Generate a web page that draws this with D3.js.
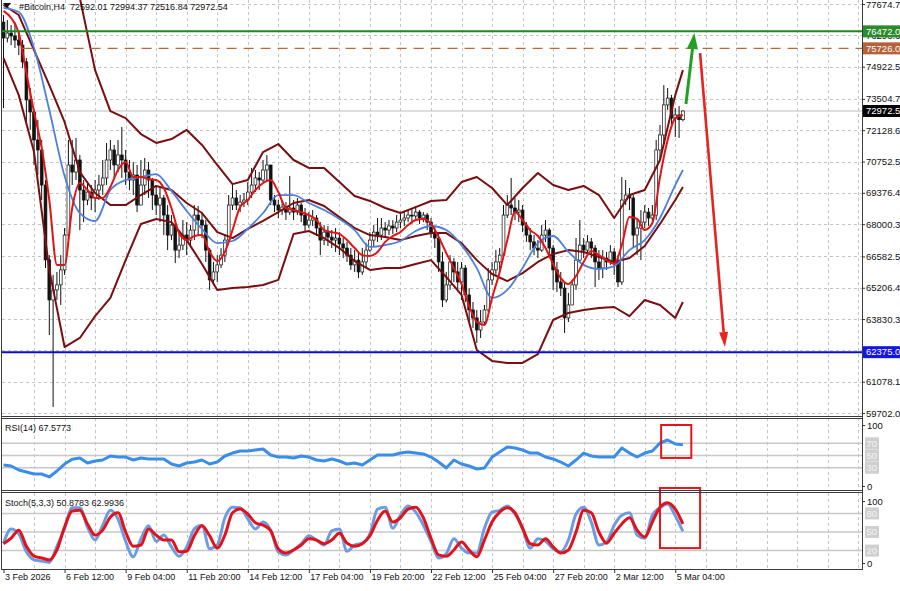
<!DOCTYPE html>
<html><head><meta charset="utf-8">
<script src="https://cdn.jsdelivr.net/npm/d3@7"></script>
<style>
html,body{margin:0;padding:0;background:#fff;}
svg{display:block;font-family:"Liberation Sans",Arial,sans-serif;}
</style></head><body>
<svg id="c" width="900" height="591"></svg>
<script>
// ---------------- DATA ----------------
const symbolTitle = "#Bitcoin,H4";
const lastOHLC = [72592.01, 72994.37, 72516.84, 72972.54];
const firstOpen = 76880;
const closes = [76180,76400,76270,76090,75870,75130,73460,72930,71700,71260,69720,66430,64670,65110,65330,65990,67520,70600,70290,70820,
69500,69060,69410,69150,69500,69720,70030,70820,71260,70600,71040,70820,70290,69940,70160,68840,69720,70380,69940,69280,
68840,69150,68400,67520,67960,66860,67080,67520,67300,67740,68400,68180,67960,66860,65550,65900,66210,66640,67300,68840,
69150,68840,68970,69060,69410,69720,70030,69940,70380,70600,69060,68840,68620,68750,68530,68710,68530,68840,68400,67960,
68180,68270,67830,67300,67650,67430,67300,67390,67130,66950,66640,66210,66420,65900,66340,66860,67300,67650,67520,67830,
67740,67920,67830,68090,68180,68270,68400,68360,68530,68270,68400,68090,67650,67390,66340,64670,65330,66340,65900,65460,
66070,64890,64230,63880,63350,63700,64230,65550,65990,66340,66640,68400,68840,68710,68530,68620,67960,67520,67220,66950,
66860,67520,67740,66950,65990,65460,65190,63880,64450,65330,66420,67080,66860,67220,66950,66340,66070,66510,66340,66780,
66340,65460,69060,69280,69150,67520,67830,68090,68530,68270,68400,71260,71920,73240,73540,72660,72800,72592.01,72972.54];
const highs = [77190,76970,76750,76880,76530,76090,75300,73980,73020,72580,71700,69940,66640,65770,65900,66640,67830,71700,71700,71790,
71040,69940,69810,69720,69940,70160,70820,71570,71700,71480,71700,72270,71260,70820,70730,70600,70820,70910,70730,70030,
69720,69590,69280,68840,68400,68090,67740,68180,68090,67960,68840,68800,68530,68180,66950,66340,66640,66950,67520,69280,
69720,69500,69280,69370,69850,70470,70380,70290,70820,71040,70600,69280,69060,69060,68970,70120,69060,69150,68930,68710,
68530,68620,68400,68090,67960,67920,67740,67830,67650,67390,67220,66950,66860,66780,66950,67170,67650,67960,68270,68270,
68090,68180,68180,68400,68450,68530,68620,68710,68800,68620,68530,68490,68270,67920,67650,66780,65900,66640,66510,66340,
66340,66200,65190,64580,64230,64230,64450,66070,66340,66860,66950,68840,69280,70030,69150,69060,68840,68090,67830,67520,
67300,67960,68180,67830,67080,66340,65900,65460,64980,65550,67390,68180,67390,67520,67390,67080,66860,66860,66780,67080,
66950,66640,70070,69940,69590,69280,68270,68620,68840,68710,68840,71700,72360,74110,73980,73680,73100,73190,72994.37];
const lows = [73100,75990,75870,75740,75430,74860,72360,72140,70600,70160,69060,66070,63130,59970,64670,64450,65770,67300,69720,69940,
67740,68090,68840,68620,68530,69060,69280,69720,70380,70030,70290,70030,69720,69500,69280,68530,68840,69280,69150,68620,
68400,68090,67520,66860,67300,66290,66510,66860,66640,67080,67300,67520,67390,66340,65110,65330,65460,66070,66340,67220,
68620,68620,68530,68750,68840,69150,69410,69500,69850,69940,68840,68530,68270,68400,68180,68400,68180,68400,68090,67650,
67830,67920,67480,66640,67080,67040,66950,66780,66640,66510,66340,65990,65900,65630,65770,66070,66780,67040,67220,67300,
67390,67520,67570,67650,67830,67920,68090,68010,68180,68010,68090,67740,67390,66950,65900,64360,64560,65110,65460,65110,
64670,64580,63700,63440,62780,63000,63570,64140,65330,65770,65900,66510,68270,68400,68180,68090,67650,67220,66860,66640,
66510,66780,67220,66510,65110,65020,64840,63220,63700,64450,65110,66340,66510,66640,66510,65240,65550,65630,65990,66210,
65770,65240,65330,68840,68620,67000,66640,66420,67830,67920,68090,68180,70820,71480,73020,72360,71830,71790,72516.84];

// indicator lines, sampled at these bar numbers
const bandBars = [...d3.range(0, 177, 4), 178];
const bbUpper = [null,null,null,null,79600,77940,74770,72970,72660,71960,71570,71740,72140,71480,70600,69760,69940,71170,71520,70820,
70470,70470,69850,69240,69020,68710,68490,68750,69020,69060,69850,70070,69590,68840,69590,70250,69720,69500,69680,69280,
68270,69280,69500,70820,73670,74770];
const bbMiddle = [77630,77190,75650,74110,72490,70290,69370,68840,68840,69280,69680,69500,68930,68490,67650,67390,67790,68140,68530,68930,
69060,68800,68310,67830,67520,67440,67300,67480,67610,67610,67170,66420,65810,65500,65850,66340,66690,66860,66780,66560,
66340,66510,67040,68010,69060,69630];
const bbLower = [75300,73670,71170,65990,62600,63000,63960,64760,66420,68010,68230,68090,67300,66250,65110,65190,65240,65330,65550,67570,
67700,67390,66950,66380,65990,66070,66070,66250,66420,65680,64890,62470,61990,61900,61900,62290,63790,64100,64230,64320,
64360,63960,64670,64450,63880,64580];
const maSlow = [77500,77320,75740,73020,70120,68490,68140,69500,69940,70070,70200,69460,68580,67790,67170,67260,67790,68490,69280,69280,
68930,68620,68230,67740,67000,67080,67260,67700,67920,67740,67080,66070,64760,65110,66070,67170,67480,66780,66210,66030,
66160,66860,67300,68270,69720,70380];
const fastBars = d3.range(0, 179, 2);
const maFast = [77370,77060,76400,74640,72930,71350,69060,66210,66210,68710,69810,69500,69150,69150,69630,70380,70730,70070,70070,69980,
69940,69590,68710,67610,67300,67480,67520,66780,66380,66780,67740,68750,69060,69500,69810,69940,69410,68710,68620,68530,
68400,68180,67740,67650,67570,67300,66950,66640,66600,66780,67220,67480,67650,67960,68180,68230,68010,67440,66730,66070,
65370,64400,63700,63570,64760,65900,67300,68530,68180,67740,67480,66950,66250,65630,65370,65720,66340,66820,66640,66420,
66250,67080,68310,68230,67740,68050,70070,71700,72660,72800];
const rsiValues = [34.4,32.8,26.2,23,19.7,19.7,14.8,24.6,36,44,46,37.7,41,42.6,49.2,47.5,47.5,42.6,45.9,44.3,
44.3,44.3,36,32.8,37.7,39.3,42.6,36,39.3,49.2,54,57.4,57.4,59,60.7,50.8,47.5,47.5,45.9,49.2,
47.5,42.6,41,44.3,41,36,37.7,34.4,42.6,50.8,50.8,50.8,54,55.7,54,52.5,47.5,39.3,29.5,42.6,
36,32.8,27.9,29.5,47.5,55.7,63.9,62.3,59,54,54,47.5,44.3,39.3,32.8,42.6,54,49.2,47.5,47.5,
47.5,62.3,54,47.5,54,57.4,70.5,75.4,68.9,67.58];
const rsiLast = 67.5773;
const stochMain = [32,55,47,18,5,3,1,27,56,89,89,58,37,61,85,71,35,10,39,60,
35,45,26,11,26,55,61,23,29,73,90,89,71,55,66,53,18,13,21,31,
44,37,29,52,55,19,29,32,47,87,90,56,77,92,82,61,35,8,15,39,
24,16,16,56,82,85,92,79,56,24,39,35,23,18,37,79,90,66,29,34,
61,77,81,45,40,77,89,95,76,50.88];
const stochSignal = [31,40,53,27,11,8,5,21,58,84,85,63,45,53,74,81,50,27,29,55,
45,37,37,18,19,44,60,44,24,45,81,87,79,65,61,52,23,16,21,29,
39,37,31,37,48,32,27,31,44,69,84,66,73,87,90,73,40,13,11,21,
34,21,10,37,66,82,89,81,56,31,29,39,26,16,21,50,85,81,50,32,
48,63,73,53,42,66,90,97,87,62.99];
const stochLast = [50.8783, 62.9936];

const priceTicks = [77674.7,76298.6,74922.5,73504.7,72128.6,70752.5,69376.4,68000.3,66582.5,65206.4,63830.3,62454.2,61078.1,59702.0];
const timeLabels = ["3 Feb 2026","6 Feb 12:00","9 Feb 04:00","11 Feb 20:00","14 Feb 12:00","17 Feb 04:00","19 Feb 20:00","22 Feb 12:00","25 Feb 04:00","27 Feb 20:00","2 Mar 12:00","5 Mar 04:00"];
const timeLabelBars = [0,16,32,48,64,80,96,112,128,144,160,176];
const resistanceLevel = 76472.0, targetLevel = 75726.0, supportLevel = 62375.0;
const rsiLevels = [70,50,30], stochLevels = [80,50,20];
const greenArrow = [[178.8,73280],[181.0,76400]];
const redArrow = [[182.5,75520],[189.0,62600]];
const rsiBox = [[172.3,100],[180.2,46]];
const stochBox = [[172.0,121],[182.5,24]];

// ---------------- LAYOUT ----------------
const L = 2, R = 862;
const P = {main:[0,416], rsi:[418,491], st:[493,569]};
const svg = d3.select("#c");
const x = d3.scaleLinear().domain([0,178]).range([3.5, 682.9]);
const yP = d3.scaleLinear().domain([59702.0, 77674.7]).range([413, 4]);
const yR = d3.scaleLinear().domain([0,100]).range([486, 425]);
const yS = d3.scaleLinear().domain([0,100]).range([563, 501]);

const defs = svg.append("defs");
for (const [k,[t,b]] of Object.entries(P)) {
  defs.append("clipPath").attr("id","clip-"+k).append("rect").attr("x",L).attr("y",t).attr("width",R-L).attr("height",b-t);
}
const gMain = svg.append("g").attr("clip-path","url(#clip-main)");
const gRsi = svg.append("g").attr("clip-path","url(#clip-rsi)");
const gSt = svg.append("g").attr("clip-path","url(#clip-st)");

// vertical grid
const gridBars = d3.range(8, 225, 8);
for (const [g,[t,b]] of [[gMain,P.main],[gRsi,P.rsi],[gSt,P.st]]) {
  g.selectAll("line.vg").data(gridBars).join("line").attr("class","vg")
    .attr("x1",d=>Math.round(x(d))+0.5).attr("x2",d=>Math.round(x(d))+0.5).attr("y1",t).attr("y2",b)
    .attr("stroke","#c4c4c4").attr("stroke-dasharray","3,3");
}
// horizontal grid main
gMain.selectAll("line.hg").data(priceTicks).join("line")
  .attr("x1",L).attr("x2",R).attr("y1",d=>Math.round(yP(d))+0.5).attr("y2",d=>Math.round(yP(d))+0.5)
  .attr("stroke","#c4c4c4").attr("stroke-dasharray","3,3");

// current price line
gMain.append("line").attr("x1",L).attr("x2",R).attr("y1",yP(lastOHLC[3])).attr("y2",yP(lastOHLC[3]))
  .attr("stroke","#bdbdbd").attr("stroke-width",1);

// candles
const candles = closes.map((c,i)=>({i, o: i===0?firstOpen:closes[i-1], h:highs[i], l:lows[i], c}));
gMain.selectAll("line.wick").data(candles).join("line")
  .attr("x1",d=>x(d.i)).attr("x2",d=>x(d.i)).attr("y1",d=>yP(d.h)).attr("y2",d=>yP(d.l))
  .attr("stroke","#111").attr("stroke-width",1);
gMain.selectAll("rect.body").data(candles).join("rect")
  .attr("x",d=>x(d.i)-1.4).attr("width",2.8)
  .attr("y",d=>yP(Math.max(d.o,d.c))).attr("height",d=>Math.max(1,Math.abs(yP(d.o)-yP(d.c))))
  .attr("fill",d=>d.c>=d.o?"#fff":"#111").attr("stroke","#111").attr("stroke-width",0.7);

// indicator lines
function drawLine(g, bars, vals, ys, color, w, curve) {
  const data = bars.map((b,k)=>[b, vals[k]]);
  g.append("path").datum(data)
    .attr("d", d3.line().defined(d=>d[1]!=null).x(d=>x(d[0])).y(d=>ys(d[1])).curve(curve||d3.curveLinear))
    .attr("fill","none").attr("stroke",color).attr("stroke-width",w).attr("stroke-linejoin","round");
}
drawLine(gMain, bandBars, bbUpper, yP, "#7a0e0e", 2);
drawLine(gMain, bandBars, bbMiddle, yP, "#7a0e0e", 2);
drawLine(gMain, bandBars, bbLower, yP, "#7a0e0e", 2);
drawLine(gMain, bandBars, maSlow, yP, "#4d7fdc", 1.8, d3.curveMonotoneX);
drawLine(gMain, fastBars, maFast, yP, "#e01414", 2, d3.curveMonotoneX);

// level lines
gMain.append("line").attr("x1",L).attr("x2",R).attr("y1",yP(resistanceLevel)).attr("y2",yP(resistanceLevel))
  .attr("stroke","#1d8a1d").attr("stroke-width",2);
gMain.append("line").attr("x1",x(5)).attr("x2",R).attr("y1",yP(targetLevel)).attr("y2",yP(targetLevel))
  .attr("stroke","#b8693c").attr("stroke-width",1.4).attr("stroke-dasharray","10,7");
gMain.append("line").attr("x1",L).attr("x2",R).attr("y1",yP(supportLevel)).attr("y2",yP(supportLevel))
  .attr("stroke","#0c0cc8").attr("stroke-width",2);

// arrows
function arrow(g, a, b, color, w, hl, hw) {
  const x1=x(a[0]), y1=yP(a[1]), x2=x(b[0]), y2=yP(b[1]);
  const ang = Math.atan2(y2-y1, x2-x1);
  const bx = x2 - hl*Math.cos(ang), by = y2 - hl*Math.sin(ang);
  g.append("line").attr("x1",x1).attr("y1",y1).attr("x2",bx).attr("y2",by).attr("stroke",color).attr("stroke-width",w);
  const px = -Math.sin(ang)*hw/2, py = Math.cos(ang)*hw/2;
  g.append("path").attr("d",`M${x2},${y2}L${bx+px},${by+py}L${bx-px},${by-py}Z`).attr("fill",color);
}
arrow(svg, greenArrow[0], greenArrow[1], "#23a023", 3, 16, 11);
arrow(svg, redArrow[0], redArrow[1], "#e8231d", 2.6, 15, 9);

// RSI panel
gRsi.selectAll("line.lv").data(rsiLevels).join("line")
  .attr("x1",L).attr("x2",R).attr("y1",d=>yR(d)).attr("y2",d=>yR(d)).attr("stroke","#c8c8c8").attr("stroke-width",1.5);
drawLine(gRsi, fastBars, rsiValues, yR, "#3a8de8", 3);
// Stoch panel
gSt.selectAll("line.lv").data(stochLevels).join("line")
  .attr("x1",L).attr("x2",R).attr("y1",d=>yS(d)).attr("y2",d=>yS(d)).attr("stroke","#c8c8c8").attr("stroke-width",1.5);
drawLine(gSt, fastBars, stochMain, yS, "#6d9be2", 3, d3.curveMonotoneX);
drawLine(gSt, fastBars, stochSignal, yS, "#e2121a", 3, d3.curveMonotoneX);

// red highlight boxes
function box(a,b,ys){
  svg.append("rect").attr("x",x(a[0])).attr("y",ys(a[1])).attr("width",x(b[0])-x(a[0])).attr("height",ys(b[1])-ys(a[1]))
    .attr("fill","none").attr("stroke","#e4161c").attr("stroke-width",2);
}
box(rsiBox[0], rsiBox[1], yR);
box(stochBox[0], stochBox[1], yS);

// panel borders
const border = svg.append("g").attr("stroke","#3c3c3c").attr("fill","none");
border.append("line").attr("x1",1.5).attr("x2",1.5).attr("y1",0).attr("y2",569);
for (const yy of [416.5,418.5,490.5,492.5,569.5]) border.append("line").attr("x1",1).attr("x2",R).attr("y1",yy).attr("y2",yy);
border.append("line").attr("x1",R+0.5).attr("x2",R+0.5).attr("y1",0).attr("y2",570);

// price axis
const fs = "9.5px";
const ax = svg.append("g").attr("transform",`translate(${R},0)`)
  .call(d3.axisRight(yP).tickValues(priceTicks).tickSize(3).tickFormat(d=>d.toFixed(1)));
ax.select(".domain").remove();
ax.selectAll("text").attr("font-size",fs).attr("font-family","Liberation Sans, Arial").attr("fill","#111").attr("x",4);
ax.selectAll("line").attr("stroke","#333");

function levelLabel(yv, text, bg, fg) {
  const g = svg.append("g").attr("transform",`translate(${R+1},${yv})`);
  g.append("rect").attr("x",0).attr("y",-6).attr("width",40).attr("height",12).attr("fill",bg);
  g.append("text").attr("x",3).attr("y",0).attr("dy","0.34em").attr("font-size",fs).attr("fill",fg).text(text);
}
levelLabel(yP(resistanceLevel), resistanceLevel.toFixed(1), "#2a8c2a", "#fff");
levelLabel(yP(targetLevel), targetLevel.toFixed(1), "#b5613a", "#fff");
levelLabel(yP(lastOHLC[3]), lastOHLC[3].toFixed(1), "#000", "#fff");
levelLabel(yP(supportLevel), supportLevel.toFixed(1), "#1414e6", "#fff");

// RSI / Stoch right labels
function subAxis(ys, levels) {
  const g = svg.append("g").attr("transform",`translate(${R},0)`)
    .call(d3.axisRight(ys).tickValues([100,0]).tickSize(3).tickFormat(d3.format("d")));
  g.select(".domain").remove();
  g.selectAll("text").attr("font-size",fs).attr("fill","#111").attr("x",5);
  g.selectAll("line").attr("stroke","#333");
  for (const lv of levels) {
    const gg = svg.append("g").attr("transform",`translate(${R+3},${ys(lv)})`);
    gg.append("rect").attr("x",0).attr("y",-6).attr("width",14).attr("height",12).attr("fill","#cfcfcf");
    gg.append("text").attr("x",1.5).attr("dy","0.34em").attr("font-size",fs).attr("fill","#f4f4f4").text(lv);
  }
}
subAxis(yR, rsiLevels);
subAxis(yS, stochLevels);

// time axis
const tx = svg.append("g").attr("transform","translate(0,569)")
  .call(d3.axisBottom(x).tickValues(timeLabelBars).tickSize(4).tickFormat((d,i)=>timeLabels[i]));
tx.select(".domain").remove();
tx.selectAll("line").attr("stroke","#333");
tx.selectAll("text").attr("font-size","9px").attr("fill","#111").attr("text-anchor","start").attr("x",1).attr("y",5);

// titles
svg.append("path").attr("d","M3,3L11,3L7,8Z").attr("fill","#111");
svg.append("text").attr("x",19).attr("y",9.5).attr("font-size","9px").attr("fill","#111")
  .attr("xml:space","preserve")
  .text(`${symbolTitle}  ${lastOHLC.map(v=>v.toFixed(2)).join(" ")}`);
svg.append("text").attr("x",5).attr("y",431).attr("font-size","9px").attr("fill","#111").text(`RSI(14) ${rsiLast.toFixed(4)}`);
svg.append("text").attr("x",5).attr("y",506).attr("font-size","9px").attr("fill","#111").text(`Stoch(5,3,3) ${stochLast.map(v=>v.toFixed(4)).join(" ")}`);
</script>
</body></html>
